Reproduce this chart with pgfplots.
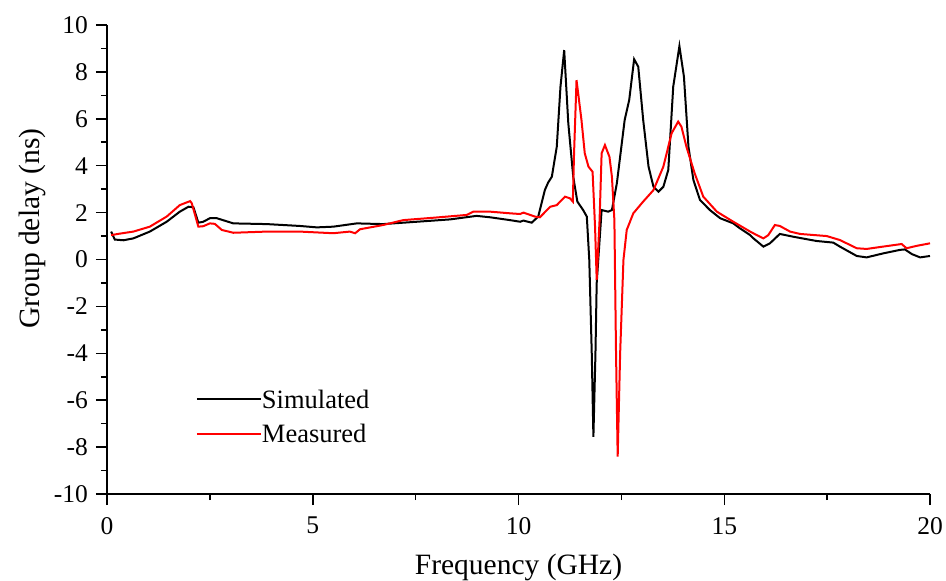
\documentclass[border=0pt]{standalone}
\usepackage{pgfplots}
\pgfplotsset{compat=1.18}
\usepackage{fontspec}
\setmainfont{Liberation Serif}
\begin{document}
\begin{tikzpicture}
\begin{axis}[
  scale only axis,
  width=823pt, height=469pt,
  xmin=0, xmax=20, ymin=-10, ymax=10,
  axis lines*=left,
  axis line style={line width=1.5pt},
  tick style={line width=1.5pt, black},
  tick align=outside,
  major tick length=11pt, minor tick length=6pt,
  xtick={0,5,10,15,20}, minor x tick num=1,
  ytick={-10,-8,...,10}, minor y tick num=1,
  /pgf/number format/assume math mode=true,
  ticklabel style={font=\fontsize{25.5}{30}\selectfont, inner sep=0pt},
  yticklabel style={xshift=-8pt},
  xticklabel style={yshift=-12pt},
  every axis x label/.style={at={(axis description cs:0.5,-0.1727)}, anchor=base, inner sep=0pt, font=\fontsize{29.5}{34}\selectfont},
  every axis y label/.style={at={(axis description cs:-0.0826,0.566)}, rotate=90, anchor=base, inner sep=0pt, font=\fontsize{29.5}{34}\selectfont},
  xlabel={Frequency (GHz)},
  ylabel={Group delay (ns)},
  legend style={at={(axis description cs:0.1081,0.2296)}, anchor=north west, draw=none, fill=none,
    inner sep=0pt, outer sep=0pt,
    font=\fontsize{26.5}{30}\selectfont, row sep=8.4pt, column sep=0pt,
    nodes={inner sep=0pt, text height=22pt, text depth=4pt}},
  legend cell align=left,
  legend image code/.code={\draw[#1] (0pt,0pt) -- (64pt,0pt);},
  clip=false,
]
\coordinate (ll) at (rel axis cs:0,0);
\coordinate (ur) at (rel axis cs:1,1);
\addplot[black, line width=2pt] coordinates {
(0.1,1.19) (0.19,0.85) (0.4,0.82) (0.64,0.9) (1.04,1.19) (1.45,1.61) (1.77,2.04)
(1.98,2.25) (2.10,2.23) (2.22,1.57) (2.34,1.61) (2.50,1.76) (2.67,1.76) (3.07,1.54)
(3.88,1.51) (4.69,1.43) (5.10,1.37) (5.50,1.40) (6.07,1.54) (6.71,1.51) (7.53,1.61)
(8.34,1.71) (8.98,1.86) (9.31,1.80) (9.79,1.68) (10.04,1.61) (10.12,1.66) (10.32,1.57)
(10.48,1.83) (10.64,2.96) (10.72,3.28) (10.81,3.53) (10.93,4.81) (11.02,7.37) (11.11,8.93)
(11.21,5.81) (11.33,3.53) (11.43,2.47) (11.57,2.11) (11.66,1.83) (11.72,-0.02) (11.78,-4.0)
(11.82,-7.56) (11.87,-4.0) (11.90,-1.01) (12.02,2.11) (12.18,2.04) (12.27,2.11) (12.39,3.25)
(12.58,5.95) (12.69,6.80) (12.81,8.54) (12.91,8.22) (13.03,5.95) (13.16,3.96) (13.28,3.10)
(13.40,2.89) (13.52,3.10) (13.64,3.82) (13.76,7.37) (13.91,9.10) (14.02,7.80) (14.13,4.81)
(14.25,3.39) (14.41,2.54) (14.65,2.11) (14.90,1.76) (15.22,1.54) (15.38,1.33) (15.63,1.04)
(15.71,0.90) (15.95,0.55) (16.11,0.69) (16.35,1.09) (16.68,0.97) (17.24,0.79) (17.65,0.72)
(17.81,0.55) (18.22,0.15) (18.46,0.09) (18.86,0.26) (19.27,0.41) (19.39,0.43) (19.56,0.23)
(19.76,0.09) (20.0,0.15)
};
\addlegendentry{Simulated}
\addplot[red, line width=2pt] coordinates {
(0.1,1.04) (0.3,1.1) (0.64,1.19) (1.04,1.40) (1.45,1.83) (1.77,2.32) (2.02,2.49) (2.06,2.4)
(2.22,1.40) (2.34,1.42) (2.50,1.54) (2.62,1.52) (2.79,1.26) (3.07,1.14) (3.88,1.19)
(4.69,1.19) (5.50,1.12) (5.90,1.19) (6.03,1.12) (6.15,1.29) (6.71,1.47) (7.20,1.68)
(7.93,1.78) (8.74,1.90) (8.90,2.04) (9.31,2.04) (9.79,1.97) (10.04,1.94) (10.12,2.0)
(10.40,1.83) (10.52,1.80) (10.77,2.25) (10.93,2.32) (11.13,2.68) (11.25,2.61) (11.32,2.47)
(11.35,4.53) (11.41,7.65) (11.53,5.95) (11.61,4.53) (11.70,3.96) (11.80,3.74) (11.86,1.40)
(11.90,-0.87) (11.97,1.68) (12.02,4.53) (12.10,4.88) (12.21,4.38) (12.27,3.53) (12.33,1.68)
(12.37,-4.0) (12.41,-8.41) (12.47,-4.0) (12.55,-0.02) (12.63,1.26) (12.79,1.97) (13.03,2.47)
(13.28,2.96) (13.52,3.96) (13.72,5.38) (13.88,5.88) (13.96,5.66) (14.08,4.81) (14.28,3.68)
(14.49,2.68) (14.82,2.04) (15.22,1.61) (15.63,1.19) (15.79,1.04) (15.95,0.90) (16.07,1.04)
(16.23,1.47) (16.35,1.43) (16.6,1.19) (16.84,1.09) (17.49,1.00) (17.81,0.83) (18.22,0.48)
(18.46,0.45) (18.86,0.55) (19.31,0.66) (19.43,0.48) (19.67,0.58) (20.0,0.69)
};
\addlegendentry{Measured}
\end{axis}
\pgfresetboundingbox
\path[use as bounding box] ([shift={(-107pt,-86pt)}]ll) rectangle ([shift={(16pt,25pt)}]ur);
\end{tikzpicture}
\end{document}
